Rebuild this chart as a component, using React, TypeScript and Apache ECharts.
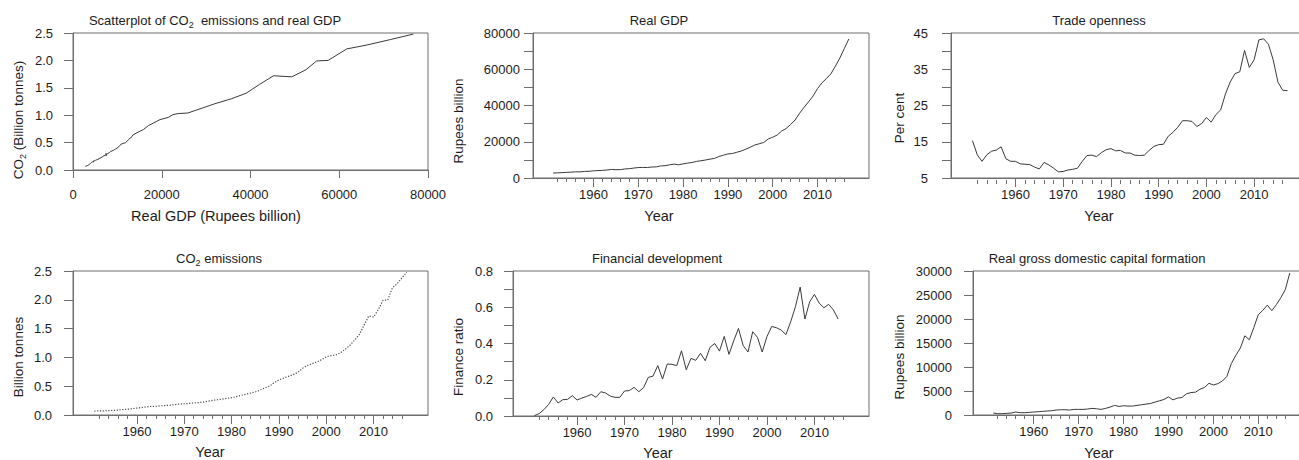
import React, { useEffect, useRef } from 'react';
import * as echarts from 'echarts';

// ---------- data ----------
const FIRST_YEAR = 1951;
const axisYears: string[] = [];
for (let y = 1947; y <= 2021; y++) axisYears.push(String(y));

const yearLabels = [1960, 1970, 1980, 1990, 2000, 2010];

// Real GDP, Rupees billion, 1951-2017
const gdp = [
  2750, 2830, 2990, 3110, 3220, 3400, 3380, 3630, 3710, 3950,
  4080, 4200, 4400, 4730, 4570, 4620, 4980, 5140, 5480, 5760,
  5830, 5800, 6060, 6130, 6670, 6780, 7270, 7680, 7280, 7800,
  8240, 8530, 9160, 9520, 9920, 10400, 10800, 11850, 12600, 13300,
  13500, 14200, 14900, 15900, 17000, 18200, 18900, 19600, 21500, 22500,
  23700, 25900, 27300, 29500, 32000, 35700, 39000, 42000, 45200, 49300,
  52500, 54900, 57500, 61700, 66200, 71500, 76700,
];

// CO2 emissions, billion tonnes, 1951-2017
const co2 = [
  0.069, 0.071, 0.072, 0.076, 0.080, 0.085, 0.095, 0.100, 0.110, 0.120,
  0.130, 0.140, 0.150, 0.150, 0.160, 0.165, 0.170, 0.180, 0.190, 0.195,
  0.200, 0.210, 0.215, 0.225, 0.240, 0.255, 0.265, 0.275, 0.290, 0.300,
  0.320, 0.340, 0.360, 0.380, 0.400, 0.430, 0.470, 0.500, 0.560, 0.610,
  0.640, 0.670, 0.700, 0.740, 0.810, 0.860, 0.890, 0.920, 0.960, 1.010,
  1.030, 1.040, 1.080, 1.140, 1.210, 1.300, 1.400, 1.560, 1.720, 1.700,
  1.830, 1.990, 2.000, 2.210, 2.280, 2.380, 2.480,
];

// Trade openness, per cent, 1951-2017
const trade = [
  15.3, 11.4, 9.6, 11.4, 12.4, 12.7, 13.6, 10.3, 9.6, 9.6,
  8.9, 8.8, 8.7, 8.0, 7.5, 9.3, 8.6, 7.7, 6.7, 6.8,
  7.2, 7.4, 7.7, 9.6, 11.2, 11.3, 10.9, 12.0, 12.8, 13.1,
  12.5, 12.6, 11.9, 11.9, 11.3, 11.2, 11.3, 12.6, 13.7, 14.2,
  14.3, 16.5, 17.6, 19.0, 20.8, 20.8, 20.6, 19.2, 20.0, 21.7,
  20.4, 22.5, 23.8, 28.2, 31.5, 33.8, 34.3, 40.2, 35.5, 37.6,
  43.1, 43.4, 41.9, 37.6, 31.4, 29.2, 29.1,
];

// Financial development, finance ratio, 1951-2015
const finance = [
  0.002, 0.013, 0.035, 0.064, 0.105, 0.072, 0.090, 0.092, 0.112, 0.088,
  0.099, 0.108, 0.119, 0.103, 0.134, 0.127, 0.110, 0.103, 0.103, 0.138,
  0.140, 0.158, 0.134, 0.156, 0.213, 0.220, 0.278, 0.204, 0.287, 0.285,
  0.278, 0.360, 0.255, 0.318, 0.307, 0.346, 0.305, 0.379, 0.400, 0.358,
  0.439, 0.340, 0.415, 0.483, 0.388, 0.353, 0.465, 0.434, 0.353, 0.438,
  0.494, 0.487, 0.474, 0.449, 0.520, 0.603, 0.711, 0.535, 0.630, 0.671,
  0.623, 0.597, 0.616, 0.585, 0.535,
];

// Real gross domestic capital formation, Rupees billion, 1951-2017
const capital = [
  410, 275, 275, 340, 410, 620, 480, 480, 550, 620,
  690, 760, 825, 895, 1030, 1100, 1100, 1030, 1170, 1170,
  1170, 1240, 1375, 1300, 1170, 1375, 1650, 2000, 1790, 1930,
  1860, 1860, 2000, 2130, 2270, 2400, 2680, 2960, 3230, 3780,
  3160, 3510, 3650, 4400, 4680, 4750, 5360, 5710, 6600, 6260,
  6530, 7080, 8050, 10730, 12450, 13960, 16500, 15680, 18230, 20910,
  21800, 22900, 21730, 22970, 24420, 26130, 29570,
];

// tick labels
const scatterXLabels = [0, 20000, 40000, 60000, 80000];
const co2Labels = [0, 0.5, 1.0, 1.5, 2.0, 2.5];
const gdpLabels = [0, 20000, 40000, 60000, 80000];
const tradeLabels = [5, 15, 25, 35, 45];
const financeLabels = [0, 0.2, 0.4, 0.6, 0.8];
const capitalLabels = [0, 5000, 10000, 15000, 20000, 25000, 30000];

// ---------- styling ----------
const FONT = "'Liberation Sans', Arial, Helvetica, sans-serif";
const AX = '#6e6e6e';
const TXT = '#1c1c1c';
const LINE = '#3a3a3a';

const panels = [
  { l: 73, t: 33, w: 355, h: 137 },
  { l: 533, t: 33, w: 336, h: 145 },
  { l: 951, t: 33, w: 358, h: 145 },
  { l: 73, t: 271, w: 355, h: 144 },
  { l: 513, t: 271, w: 356, h: 145 },
  { l: 973, t: 271, w: 337, h: 144 },
];

const has = (list: number[], v: number) => list.some((x) => Math.abs(x - v) < 1e-6);

const labelBase = { color: TXT, fontSize: 13, fontFamily: FONT };

const yearPairs = (vals: number[]) => vals.map((v, i) => [String(FIRST_YEAR + i), v]);

function yearMajor(g: number) {
  return {
    type: 'category',
    gridIndex: g,
    data: axisYears,
    boundaryGap: true,
    position: 'bottom',
    axisLine: { show: true, onZero: false, lineStyle: { color: AX, width: 1 } },
    axisTick: {
      show: true,
      alignWithLabel: true,
      interval: (_i: number, v: string) => has(yearLabels, +v),
      length: 9,
      lineStyle: { color: AX, width: 1 },
    },
    axisLabel: { ...labelBase, interval: (_i: number, v: string) => has(yearLabels, +v), margin: 10 },
    splitLine: { show: false },
  };
}

function yearMinor(g: number) {
  return {
    type: 'category',
    gridIndex: g,
    data: axisYears,
    boundaryGap: true,
    position: 'bottom',
    offset: 2,
    axisLine: { show: false },
    axisTick: {
      show: true,
      alignWithLabel: true,
      interval: (_i: number, v: string) => +v % 2 === 0 && +v >= 1952 && +v <= 2016 && !has(yearLabels, +v),
      length: 4,
      lineStyle: { color: AX, width: 1 },
    },
    axisLabel: { show: false },
    splitLine: { show: false },
  };
}

function valueY(g: number, min: number, max: number, interval: number, labels: number[], digits: number, margin: number) {
  return {
    type: 'value',
    gridIndex: g,
    min,
    max,
    interval,
    axisLine: { show: true, lineStyle: { color: AX, width: 1 } },
    axisTick: { show: true, length: 9, lineStyle: { color: AX, width: 1 } },
    axisLabel: {
      ...labelBase,
      margin,
      formatter: (v: number) => (has(labels, v) ? v.toFixed(digits) : ''),
    },
    splitLine: { show: false },
  };
}

const subRich = { s: { fontSize: 9, fontFamily: FONT, fill: TXT, verticalAlign: 'bottom', lineHeight: 18 } };

function txt(x: number, y: number, text: string, fontSize: number, rotate = false) {
  return {
    type: 'text',
    x,
    y,
    rotation: rotate ? Math.PI / 2 : 0,
    silent: true,
    style: {
      text,
      fill: TXT,
      fontSize,
      fontFamily: FONT,
      align: 'center',
      verticalAlign: 'middle',
      rich: subRich,
    },
  };
}

function lineSeries(xi: number, yi: number, data: any[], dotted = false) {
  return {
    type: 'line',
    xAxisIndex: xi,
    yAxisIndex: yi,
    data,
    showSymbol: false,
    symbol: 'none',
    silent: true,
    lineStyle: dotted ? { color: '#4a4a4a', width: 1.2, type: [1.2, 1.6] } : { color: LINE, width: 1 },
  };
}

const option: any = {
  animation: false,
  backgroundColor: '#ffffff',
  grid: panels.map((p) => ({
    left: p.l,
    top: p.t,
    width: p.w,
    height: p.h,
    show: true,
    borderColor: AX,
    borderWidth: 1,
    backgroundColor: 'transparent',
    containLabel: false,
  })),
  xAxis: [
    {
      type: 'value',
      gridIndex: 0,
      min: 0,
      max: 80000,
      interval: 20000,
      axisLine: { show: true, onZero: false, lineStyle: { color: AX, width: 1 } },
      axisTick: { show: true, length: 8, lineStyle: { color: AX, width: 1 } },
      axisLabel: { ...labelBase, margin: 18, formatter: (v: number) => (has(scatterXLabels, v) ? String(v) : '') },
      splitLine: { show: false },
    },
    yearMajor(1), yearMinor(1),
    yearMajor(2), yearMinor(2),
    yearMajor(3), yearMinor(3),
    yearMajor(4), yearMinor(4),
    yearMajor(5), yearMinor(5),
  ],
  yAxis: [
    valueY(0, 0, 2.5, 0.5, co2Labels, 1, 20),
    valueY(1, 0, 80000, 10000, gdpLabels, 0, 13),
    valueY(2, 5, 45, 5, tradeLabels, 0, 23),
    valueY(3, 0, 2.5, 0.5, co2Labels, 1, 21),
    valueY(4, 0, 0.8, 0.1, financeLabels, 1, 20),
    valueY(5, 0, 30000, 5000, capitalLabels, 0, 21),
  ],
  series: [
    lineSeries(0, 0, gdp.map((g, i) => [g, co2[i]])),
    lineSeries(1, 1, yearPairs(gdp)),
    lineSeries(3, 2, yearPairs(trade)),
    lineSeries(5, 3, yearPairs(co2), true),
    lineSeries(7, 4, yearPairs(finance)),
    lineSeries(9, 5, yearPairs(capital)),
  ],
  graphic: [
    // titles
    txt(215, 20, 'Scatterplot of CO{s|2}  emissions and real GDP', 13),
    txt(659, 20, 'Real GDP', 13),
    txt(1099, 20, 'Trade openness', 13),
    txt(219, 258, 'CO{s|2} emissions', 13),
    txt(657, 258, 'Financial development', 13),
    txt(1097, 258, 'Real gross domestic capital formation', 13),
    // x names
    txt(216, 216, 'Real GDP (Rupees billion)', 14.5),
    txt(659, 216, 'Year', 14.5),
    txt(1099, 216, 'Year', 14.5),
    txt(210, 452, 'Year', 14.5),
    txt(658, 453, 'Year', 14.5),
    txt(1099, 453, 'Year', 14.5),
    // y names
    txt(18, 120, 'CO{s|2} (Billion tonnes)', 13.5, true),
    txt(458, 121, 'Rupees billion', 13.5, true),
    txt(899, 118, 'Per cent', 13.5, true),
    txt(18, 357, 'Billion tonnes', 13.5, true),
    txt(458, 357, 'Finance ratio', 13.5, true),
    txt(899, 357, 'Rupees billion', 13.5, true),
  ],
};

export default function App() {
  const ref = useRef<HTMLDivElement>(null);
  useEffect(() => {
    if (!ref.current) return;
    const chart = echarts.init(ref.current, null, { renderer: 'svg' });
    chart.setOption(option);
    return () => chart.dispose();
  }, []);
  return (
    <div style={{ position: 'fixed', left: 0, top: 0, width: 1299, height: 460, overflow: 'hidden', background: '#fff' }}>
      <div ref={ref} style={{ width: 1320, height: 460 }} />
    </div>
  );
}
